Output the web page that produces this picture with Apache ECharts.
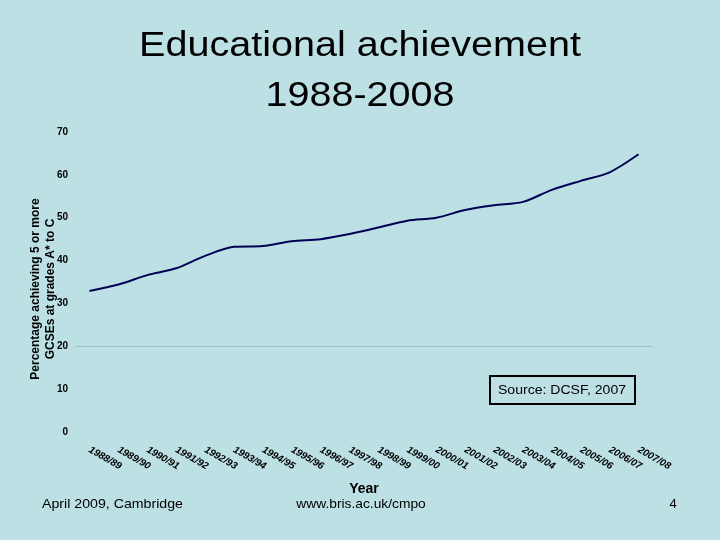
<!DOCTYPE html>
<html>
<head>
<meta charset="utf-8">
<script src="https://cdn.jsdelivr.net/npm/echarts@6/dist/echarts.min.js"></script>
<style>html,body{margin:0;padding:0;background:#bce0e4;}#c{width:720px;height:540px;}</style>
</head>
<body>
<div id="c"></div>
<script>
var categories = ['1988/89','1989/90','1990/91','1991/92','1992/93','1993/94','1994/95','1995/96','1996/97','1997/98','1998/99','1999/00','2000/01','2001/02','2002/03','2003/04','2004/05','2005/06','2006/07','2007/08'];
var values = [32.9, 34.4, 36.6, 38.2, 41.1, 43.2, 43.4, 44.5, 45.0, 46.2, 47.7, 49.3, 50.0, 51.8, 52.9, 53.7, 56.5, 58.6, 60.6, 64.8];
var yTicks = [0, 10, 20, 30, 40, 50, 60, 70];
var titleLine1 = 'Educational achievement';
var titleLine2 = '1988-2008';
var yName = 'Percentage achieving 5 or more\nGCSEs at grades A* to C';
var xName = 'Year';
var sourceText = 'Source: DCSF, 2007';
var footerLeft = 'April 2009, Cambridge';
var footerMid = 'www.bris.ac.uk/cmpo';
var footerRight = '4';

var FONT = 'Liberation Sans';
var chart = echarts.init(document.getElementById('c'));
chart.setOption({
  backgroundColor: '#bce0e4',
  animation: false,
  grid: {left: 75, right: 67, top: 132, bottom: 108},
  xAxis: {
    type: 'category',
    data: categories,
    boundaryGap: true,
    axisLine: {show: false},
    axisTick: {show: false},
    axisLabel: {rotate: -30, margin: 17, fontFamily: FONT, fontSize: 10, fontWeight: 'bold', fontStyle: 'italic', color: '#000', interval: 0},
    name: xName,
    nameLocation: 'middle',
    nameGap: 50,
    nameMoveOverlap: false,
    nameTextStyle: {fontFamily: FONT, fontSize: 14, fontWeight: 'bold', color: '#000'}
  },
  yAxis: {
    type: 'value',
    min: yTicks[0],
    max: yTicks[yTicks.length - 1],
    interval: 10,
    axisLine: {show: false},
    axisTick: {show: false},
    splitLine: {show: false},
    axisLabel: {margin: 7, fontFamily: FONT, fontSize: 10, fontWeight: 'bold', color: '#000'},
    name: yName,
    nameLocation: 'middle',
    nameGap: 17,
    nameMoveOverlap: false,
    nameTextStyle: {fontFamily: FONT, fontSize: 12, fontWeight: 'bold', color: '#000', lineHeight: 15, padding: [0, 14, 0, 0]}
  },
  series: [{
    type: 'line',
    data: values,
    smooth: 0.3,
    symbol: 'none',
    lineStyle: {color: '#000055', width: 2},
    markLine: {
      silent: true,
      symbol: ['none', 'none'],
      label: {show: false},
      lineStyle: {color: '#9fc3cb', width: 1, type: 'solid'},
      data: [{yAxis: 20}]
    }
  }],
  graphic: [
    {type: 'text', x: 360, y: 46, scaleX: 1.13, style: {text: titleLine1, fontFamily: FONT, fontSize: 35, fill: '#000', align: 'center', verticalAlign: 'middle'}},
    {type: 'text', x: 360, y: 96, scaleX: 1.13, style: {text: titleLine2, fontFamily: FONT, fontSize: 35, fill: '#000', align: 'center', verticalAlign: 'middle'}},
    {type: 'rect', x: 490, y: 376, shape: {x: 0, y: 0, width: 145, height: 28}, style: {fill: 'none', stroke: '#000', lineWidth: 2}},
    {type: 'text', x: 562, y: 390, scaleX: 1.08, style: {text: sourceText, fontFamily: FONT, fontSize: 13, fill: '#000', align: 'center', verticalAlign: 'middle'}},
    {type: 'text', x: 42, y: 504, scaleX: 1.09, style: {text: footerLeft, fontFamily: FONT, fontSize: 13, fill: '#000', align: 'left', verticalAlign: 'middle'}},
    {type: 'text', x: 361, y: 504, scaleX: 1.06, style: {text: footerMid, fontFamily: FONT, fontSize: 13, fill: '#000', align: 'center', verticalAlign: 'middle'}},
    {type: 'text', x: 673, y: 504, style: {text: footerRight, fontFamily: FONT, fontSize: 13, fill: '#000', align: 'center', verticalAlign: 'middle'}}
  ]
});
</script>
</body>
</html>
